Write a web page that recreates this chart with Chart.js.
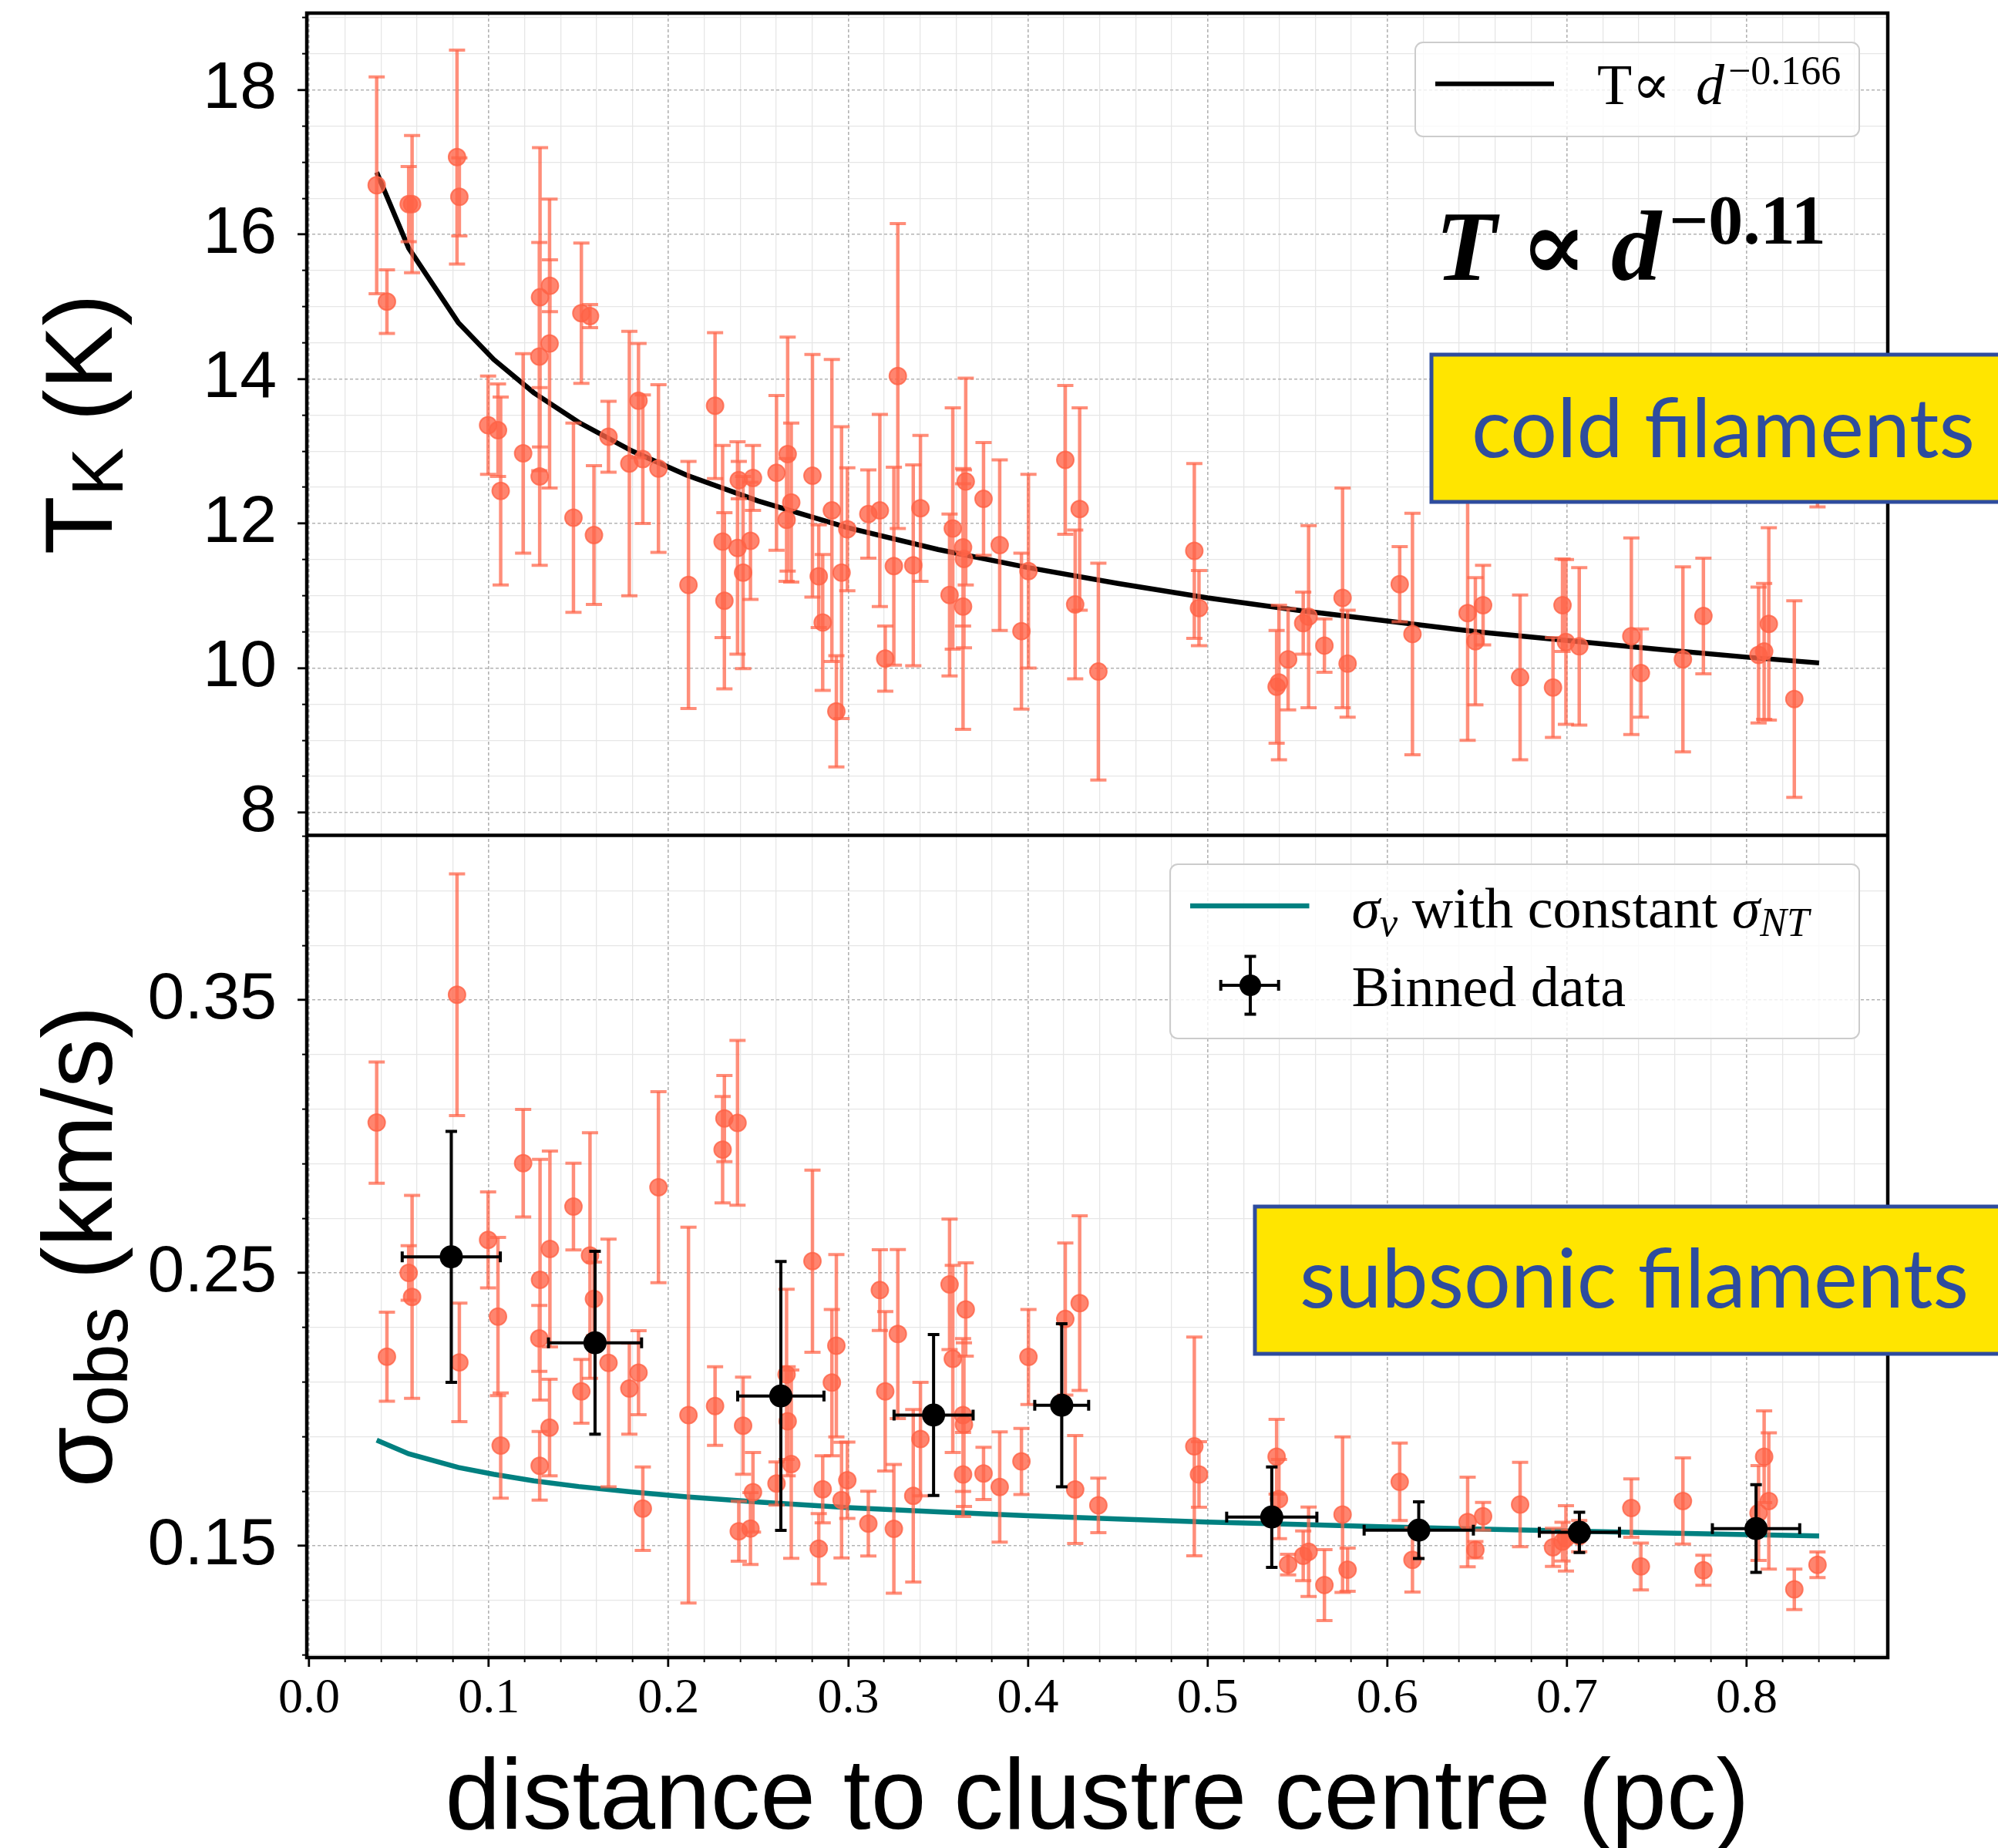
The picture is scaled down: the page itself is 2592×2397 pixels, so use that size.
<!DOCTYPE html>
<html>
<head>
<meta charset="utf-8">
<script src="https://cdn.jsdelivr.net/npm/chart.js@4.4.0/dist/chart.umd.min.js"></script>
<style>
  html, body { margin: 0; padding: 0; background: #fff; overflow: hidden; }
  #wrap { position: relative; width: 2592px; height: 2397px; }
</style>
</head>
<body>
<div id="wrap"><canvas id="chart" width="2592" height="2397"></canvas></div>
<script>
// ================= Data =================
// one entry per filament, same order in both panels
const distance = [
  0.0376, 0.0433, 0.0554, 0.0573, 0.0823, 0.0836, 0.0996, 0.1051, 0.1066, 0.1191,
  0.1285, 0.1281, 0.1283, 0.1340, 0.1338, 0.1471, 0.1515, 0.1563, 0.1585, 0.1666,
  0.1782, 0.1833, 0.1857, 0.1944, 0.2111, 0.2259, 0.2301, 0.2311, 0.2384, 0.2391,
  0.2415, 0.2470, 0.2456, 0.2601, 0.2663, 0.2683, 0.2657, 0.2801, 0.2836, 0.2858,
  0.2909, 0.2934, 0.2963, 0.2995, 0.3112, 0.3176, 0.3206, 0.3276, 0.3254, 0.3362,
  0.3402, 0.3582, 0.3564, 0.3654, 0.3639, 0.3644, 0.3639, 0.3753, 0.3843, 0.3964,
  0.4003, 0.4208, 0.4288, 0.4263, 0.4392, 0.4926, 0.4952, 0.5384, 0.5397, 0.5448,
  0.5532, 0.5562, 0.5650, 0.5751, 0.5779, 0.6069, 0.6140, 0.6447, 0.6490, 0.6533,
  0.6739, 0.6922, 0.6975, 0.6994, 0.7068, 0.7358, 0.7411, 0.7645, 0.7759, 0.8066,
  0.8097, 0.8123, 0.8265, 0.8394
];
const tempK = [
  16.68, 15.07, 16.42, 16.42, 17.07, 16.52, 13.36, 13.29, 12.45, 12.97,
  15.13, 14.31, 12.65, 15.29, 14.49, 12.08, 14.91, 14.87, 11.84, 13.20,
  12.83, 13.70, 12.89, 12.76, 11.15, 13.63, 11.75, 10.93, 11.66, 12.60,
  11.32, 12.63, 11.76, 12.70, 12.96, 12.29, 12.05, 12.66, 11.27, 10.63,
  12.18, 9.40, 11.32, 11.92, 12.13, 12.18, 10.13, 14.04, 11.41, 11.42,
  12.21, 11.93, 11.01, 12.58, 11.67, 11.51, 10.85, 12.34, 11.70, 10.51,
  11.34, 12.88, 12.20, 10.88, 9.95, 11.62, 10.83, 9.74, 9.80, 10.12,
  10.62, 10.71, 10.31, 10.97, 10.06, 11.16, 10.47, 10.76, 10.37, 10.87,
  9.87, 9.73, 10.87, 10.36, 10.30, 10.44, 9.93, 10.12, 10.72, 10.18,
  10.23, 10.61, 9.57, 13.00
];
const tempErr = [
  1.50, 0.44, 0.52, 0.95, 1.48, 0.54, 0.68, 0.64, 1.30, 1.38,
  2.07, 1.58, 1.23, 0.36, 2.00, 1.31, 0.97, 0.16, 0.96, 0.49,
  1.83, 0.79, 0.89, 1.16, 1.71, 1.01, 1.33, 1.22, 1.47, 0.26,
  1.33, 0.45, 0.81, 1.07, 1.62, 1.10, 0.85, 1.68, 0.71, 0.94,
  2.09, 0.77, 2.02, 0.85, 0.61, 1.33, 0.45, 2.11, 1.37, 1.39,
  1.01, 1.67, 1.12, 1.43, 1.09, 1.23, 1.70, 0.78, 1.18, 1.08,
  1.34, 1.03, 1.40, 1.03, 1.50, 1.21, 0.52, 0.78, 1.07, 0.70,
  0.43, 1.26, 0.37, 1.52, 0.74, 0.52, 1.67, 1.76, 0.88, 0.55,
  1.14, 0.69, 0.64, 1.14, 1.09, 1.36, 0.61, 1.28, 0.80, 0.94,
  0.94, 1.33, 1.36, 0.77
];
const sigmaObs = [
  0.3051, 0.2193, 0.2500, 0.2412, 0.3520, 0.2172, 0.2621, 0.2340, 0.1867, 0.2902,
  0.2475, 0.2260, 0.1793, 0.2588, 0.1933, 0.2743, 0.2066, 0.2564, 0.2405, 0.2170,
  0.2076, 0.2134, 0.1636, 0.2814, 0.1979, 0.2012, 0.2952, 0.3066, 0.3050, 0.1553,
  0.1940, 0.1696, 0.1563, 0.1728, 0.1956, 0.1799, 0.2128, 0.2543, 0.1489, 0.1707,
  0.2098, 0.2233, 0.1667, 0.1740, 0.1581, 0.2437, 0.2066, 0.2276, 0.1562, 0.1683,
  0.1891, 0.2185, 0.2458, 0.2366, 0.1979, 0.1944, 0.1761, 0.1765, 0.1715, 0.1809,
  0.2192, 0.2331, 0.2389, 0.1706, 0.1648, 0.1864, 0.1761, 0.1826, 0.1671, 0.1431,
  0.1463, 0.1478, 0.1356, 0.1614, 0.1412, 0.1734, 0.1448, 0.1587, 0.1485, 0.1608,
  0.1651, 0.1494, 0.1515, 0.1527, 0.1535, 0.1638, 0.1424, 0.1664, 0.1410, 0.1620,
  0.1826, 0.1664, 0.1340, 0.1430
];
const sigmaErr = [
  0.0222, 0.0163, 0.0100, 0.0372, 0.0443, 0.0217, 0.0176, 0.0290, 0.0193, 0.0197,
  0.0441, 0.0121, 0.0126, 0.0359, 0.0177, 0.0159, 0.0117, 0.0450, 0.0135, 0.0454,
  0.0167, 0.0154, 0.0153, 0.0350, 0.0689, 0.0144, 0.0195, 0.0158, 0.0302, 0.0110,
  0.0178, 0.0146, 0.0132, 0.0079, 0.0200, 0.0345, 0.0312, 0.0334, 0.0129, 0.0123,
  0.0268, 0.0334, 0.0212, 0.0140, 0.0119, 0.0148, 0.0292, 0.0310, 0.0236, 0.0316,
  0.0208, 0.0343, 0.0239, 0.0171, 0.0280, 0.0300, 0.0154, 0.0096, 0.0202, 0.0121,
  0.0174, 0.0279, 0.0320, 0.0198, 0.0100, 0.0401, 0.0120, 0.0137, 0.0145, 0.0038,
  0.0091, 0.0164, 0.0130, 0.0285, 0.0079, 0.0142, 0.0118, 0.0164, 0.0030, 0.0051,
  0.0155, 0.0070, 0.0071, 0.0120, 0.0057, 0.0107, 0.0086, 0.0158, 0.0055, 0.0174,
  0.0168, 0.0250, 0.0074, 0.0047
];

// binned points (black)
const binDistance = [0.0791, 0.1591, 0.2625, 0.3475, 0.4188, 0.5357, 0.6175, 0.7069, 0.8052];
const binDistErr  = [0.0273, 0.0259, 0.0240, 0.0220, 0.0150, 0.0251, 0.0304, 0.0223, 0.0243];
const binSigma    = [0.2559, 0.2244, 0.2049, 0.1979, 0.2015, 0.1605, 0.1557, 0.1549, 0.1563];
const binSigmaErr = [0.0460, 0.0335, 0.0493, 0.0295, 0.0299, 0.0184, 0.0104, 0.0074, 0.0161];

// fitted curves, values
const fitDistance = [0.0376, 0.0554, 0.083, 0.1027, 0.125, 0.15, 0.18, 0.21, 0.25, 0.30, 0.35,
                     0.40, 0.45, 0.50, 0.55, 0.60, 0.65, 0.70, 0.75, 0.80, 0.8403];
const fitTemp  = [16.86, 15.81, 14.78, 14.27, 13.81, 13.40, 13.00, 12.67, 12.31, 11.94, 11.64,
                  11.39, 11.17, 10.97, 10.80, 10.65, 10.50, 10.38, 10.26, 10.15, 10.07];
const fitSigma = [0.1887, 0.1837, 0.1787, 0.1762, 0.1738, 0.1717, 0.1697, 0.1679, 0.1660, 0.1640, 0.1624,
                  0.1610, 0.1598, 0.1587, 0.1578, 0.1569, 0.1561, 0.1554, 0.1547, 0.1541, 0.1536];

// axes
const xRange = [-0.0013, 0.8785];
const tRange = [7.684, 19.063];
const sigmaRange = [0.109, 0.4104];
const xMajorTicks = [0, 0.1, 0.2, 0.3, 0.4, 0.5, 0.6, 0.7, 0.8];
const tMajorTicks = [8, 10, 12, 14, 16, 18];
const sigmaMajorTicks = [0.15, 0.25, 0.35];

// ================= Helpers =================
const RED = 'rgba(255, 99, 71, 0.72)';
const RED_DOT = 'rgba(255, 99, 71, 0.78)';
const TEAL = '#008080';
const BLUE = '#2e4c9e';
const YELLOW = '#ffe500';

function minorTicks(majors, parts, lo, hi) {
  const step = (majors[1] - majors[0]) / parts;
  const out = [];
  let v = majors[0] - Math.floor((majors[0] - lo) / step + 1e-9) * step;
  for (; v <= hi + 1e-9; v += step) out.push(+v.toFixed(6));
  return out;
}
const xMinor = minorTicks(xMajorTicks, 5, xRange[0], xRange[1]);
const tMinor = minorTicks(tMajorTicks, 4, tRange[0], tRange[1]);
const sigmaMinor = minorTicks(sigmaMajorTicks, 5, sigmaRange[0], sigmaRange[1]);

function isMajor(v, majors) {
  return majors.some(m => Math.abs(m - v) < 1e-6);
}
const pts = (xs, ys) => xs.map((x, i) => ({x, y: ys[i]}));

// error bar segments, broken by null points
function barSegments(xs, ys, errs, vertical) {
  const out = [];
  xs.forEach((x, i) => {
    const y = ys[i], e = errs[i];
    if (vertical) out.push({x, y: y - e}, {x, y: y + e}, {x, y: null});
    else out.push({x: x - e, y}, {x: x + e, y}, {x: x + e, y: null});
  });
  return out;
}
function capPoints(xs, ys, errs, vertical) {
  const out = [];
  xs.forEach((x, i) => {
    const y = ys[i], e = errs[i];
    if (vertical) out.push({x, y: y - e}, {x, y: y + e});
    else out.push({x: x - e, y}, {x: x + e, y});
  });
  return out;
}

function lineSet(data, yAxisID, color, width, order) {
  return { data, yAxisID, showLine: true, spanGaps: false, borderColor: color, borderWidth: width,
           pointRadius: 0, order };
}
function capSet(data, yAxisID, color, radius, rotation, order) {
  return { data, yAxisID, showLine: false, pointStyle: 'line', pointRadius: radius,
           pointBorderColor: color, pointBorderWidth: 4, pointRotation: rotation, order };
}
function dotSet(data, yAxisID, color, radius, border, order) {
  return { data, yAxisID, showLine: false, pointRadius: radius, pointBackgroundColor: color,
           pointBorderColor: color, pointBorderWidth: border, order };
}

// ================= Datasets =================
const datasets = [
  lineSet(pts(fitDistance, fitTemp), 'yT', '#000', 6.5, 6),
  lineSet(pts(fitDistance, fitSigma), 'yB', TEAL, 6.5, 6),

  lineSet(barSegments(distance, tempK, tempErr, true), 'yT', RED, 4.5, 5),
  capSet(capPoints(distance, tempK, tempErr, true), 'yT', RED, 10.5, 0, 5),
  dotSet(pts(distance, tempK), 'yT', RED_DOT, 11, 2, 4),

  lineSet(barSegments(distance, sigmaObs, sigmaErr, true), 'yB', RED, 4.5, 5),
  capSet(capPoints(distance, sigmaObs, sigmaErr, true), 'yB', RED, 10.5, 0, 5),
  dotSet(pts(distance, sigmaObs), 'yB', RED_DOT, 11, 2, 4),

  lineSet(barSegments(binDistance, binSigma, binDistErr, false), 'yB', '#000', 4, 2),
  capSet(capPoints(binDistance, binSigma, binDistErr, false), 'yB', '#000', 7, 90, 2),
  lineSet(barSegments(binDistance, binSigma, binSigmaErr, true), 'yB', '#000', 4, 2),
  capSet(capPoints(binDistance, binSigma, binSigmaErr, true), 'yB', '#000', 7.5, 0, 2),
  dotSet(pts(binDistance, binSigma), 'yB', '#000', 15, 0, 1)
];

// ================= Axes =================
function minorGrid(majors) {
  return {
    color: c => (c.tick && isMajor(c.tick.value, majors)) ? 'rgba(0,0,0,0)' : '#e6e6e6',
    lineWidth: 1.3,
    tickLength: 6,
    tickWidth: 2,
    tickColor: c => (c.tick && isMajor(c.tick.value, majors)) ? 'rgba(0,0,0,0)' : '#000'
  };
}
const majorGrid = { color: '#b3b3b3', lineWidth: 1.6, tickLength: 12, tickWidth: 2.8, tickColor: '#000' };

function mainY(range, minor, majors, fmt) {
  return {
    type: 'linear', position: 'left', stack: 'panels', stackWeight: 1,
    min: range[0], max: range[1],
    afterBuildTicks: s => { s.ticks = minor.map(value => ({value})); },
    afterFit: s => { s.width = 398; s.paddingTop = 0; s.paddingBottom = 0; },
    grid: minorGrid(majors),
    border: { display: false },
    ticks: { autoSkip: false, padding: 33, color: '#000',
             font: { family: 'Liberation Sans', size: 86 },
             callback: v => isMajor(v, majors) ? fmt(v) : '' }
  };
}
function majorY(range, majors) {
  return {
    type: 'linear', position: 'left', stack: 'majors', stackWeight: 1, weight: -1,
    min: range[0], max: range[1],
    afterBuildTicks: s => { s.ticks = majors.map(value => ({value})); },
    afterFit: s => { s.width = 0; s.paddingTop = 0; s.paddingBottom = 0; },
    grid: majorGrid,
    border: { display: false, dash: [4, 3] },
    ticks: { display: false }
  };
}

// ================= Extra drawing: frame, labels, legends =================
function drawRuns(ctx, x, y, runs) {
  for (const r of runs) {
    ctx.font = r.font;
    ctx.fillText(r.text, x, y + (r.dy || 0));
    x += ctx.measureText(r.text).width;
  }
  return x;
}
function runsWidth(ctx, runs) {
  let w = 0;
  for (const r of runs) { ctx.font = r.font; w += ctx.measureText(r.text).width; }
  return w;
}
function verticalTitle(ctx, baselineX, centerY, runs) {
  ctx.save();
  ctx.translate(baselineX, centerY);
  ctx.rotate(-Math.PI / 2);
  drawRuns(ctx, -runsWidth(ctx, runs) / 2, 0, runs);
  ctx.restore();
}
function fitText(ctx, text, family, width, left, baseline) {
  ctx.font = `100px ${family}`;
  const size = 100 * width / ctx.measureText(text).width;
  ctx.font = `${size}px ${family}`;
  ctx.fillText(text, left, baseline);
}
function legendFrame(ctx, x, y, w, h) {
  ctx.beginPath();
  ctx.roundRect(x, y, w, h, 10);
  ctx.fillStyle = 'rgba(255,255,255,0.8)';
  ctx.fill();
  ctx.strokeStyle = '#cccccc';
  ctx.lineWidth = 2;
  ctx.stroke();
}
function labelBox(ctx, x, y, w, h, text, textLeft, textWidth, baseline) {
  ctx.fillStyle = YELLOW;
  ctx.fillRect(x, y, w, h);
  ctx.strokeStyle = BLUE;
  ctx.lineWidth = 5;
  ctx.strokeRect(x, y, w, h);
  ctx.fillStyle = BLUE;
  fitText(ctx, text, 'Lato, "Open Sans", sans-serif', textWidth, textLeft, baseline);
}

const frame = {
  id: 'frame',
  afterDatasetsDraw(chart) {
    const {ctx, chartArea: a, scales} = chart;
    ctx.save();
    ctx.strokeStyle = '#000';
    ctx.lineWidth = 4.5;
    ctx.strokeRect(a.left, a.top, a.right - a.left, a.bottom - a.top);
    ctx.beginPath();
    ctx.moveTo(a.left, scales.yT.bottom);
    ctx.lineTo(a.right, scales.yT.bottom);
    ctx.stroke();
    ctx.restore();
  }
};

const SERIF = '"Liberation Serif", "DejaVu Serif", serif';
const SANS = '"Liberation Sans", Arial, sans-serif';

const annotations = {
  id: 'annotations',
  afterDraw(chart) {
    const {ctx, scales} = chart;
    ctx.save();
    ctx.fillStyle = '#000';
    ctx.textBaseline = 'alphabetic';
    ctx.textAlign = 'left';

    // y axis titles
    const yTmid = (scales.yT.top + scales.yT.bottom) / 2;
    const yBmid = (scales.yB.top + scales.yB.bottom) / 2;
    verticalTitle(ctx, 145, yTmid, [
      {text: 'T', font: `124px ${SANS}`},
      {text: 'K', font: `94px ${SANS}`, dy: 14},
      {text: ' (K)', font: `124px ${SANS}`}
    ]);
    verticalTitle(ctx, 145, yBmid, [
      {text: 'σ', font: `128px ${SANS}`},
      {text: 'obs', font: `96px ${SANS}`, dy: 20},
      {text: ' (km/s)', font: `128px ${SANS}`}
    ]);

    // power-law annotation
    ctx.fillStyle = '#000';
    ctx.font = `italic bold 130px ${SERIF}`;
    ctx.fillText('T', 1862, 363);
    ctx.font = `bold 130px ${SERIF}`;
    ctx.fillText('∝', 1972, 363);
    ctx.font = `italic bold 130px ${SERIF}`;
    ctx.fillText('d', 2090, 363);
    ctx.font = `bold 90px ${SERIF}`;
    ctx.fillText('−0.11', 2165, 316);

    // legend, top panel
    legendFrame(ctx, 1836, 55, 576, 122);
    ctx.strokeStyle = '#000';
    ctx.lineWidth = 6;
    ctx.beginPath(); ctx.moveTo(1862, 108.7); ctx.lineTo(2016, 108.7); ctx.stroke();
    ctx.fillStyle = '#000';
    ctx.font = `74px ${SERIF}`;
    ctx.fillText('T∝', 2072, 134.7);
    ctx.font = `italic 74px ${SERIF}`;
    ctx.fillText('d', 2200, 134.7);
    ctx.font = `52px ${SERIF}`;
    ctx.fillText('−0.166', 2242, 108.7);

    // legend, bottom panel
    legendFrame(ctx, 1518, 1121, 894, 226);
    ctx.strokeStyle = TEAL;
    ctx.lineWidth = 6.5;
    ctx.beginPath(); ctx.moveTo(1544, 1175); ctx.lineTo(1698.5, 1175); ctx.stroke();
    ctx.fillStyle = '#000';
    drawRuns(ctx, 1753.6, 1203, [
      {text: 'σ', font: `italic 74px ${SERIF}`},
      {text: 'v', font: `italic 52px ${SERIF}`, dy: 11},
      {text: ' with constant ', font: `74px ${SERIF}`},
      {text: 'σ', font: `italic 74px ${SERIF}`},
      {text: 'NT', font: `italic 52px ${SERIF}`, dy: 11}
    ]);
    ctx.strokeStyle = '#000';
    ctx.lineWidth = 4;
    ctx.beginPath();
    ctx.moveTo(1583.7, 1278); ctx.lineTo(1658.7, 1278);
    ctx.moveTo(1583.7, 1271); ctx.lineTo(1583.7, 1285);
    ctx.moveTo(1658.7, 1271); ctx.lineTo(1658.7, 1285);
    ctx.moveTo(1622, 1240.5); ctx.lineTo(1622, 1315.5);
    ctx.moveTo(1614.5, 1240.5); ctx.lineTo(1629.5, 1240.5);
    ctx.moveTo(1614.5, 1315.5); ctx.lineTo(1629.5, 1315.5);
    ctx.stroke();
    ctx.beginPath(); ctx.arc(1622, 1278, 14, 0, Math.PI * 2); ctx.fill();
    ctx.font = `74px ${SERIF}`;
    ctx.fillText('Binned data', 1753.6, 1305);

    // highlighted labels
    labelBox(ctx, 1857, 460, 800, 191, 'cold filaments', 1909, 653, 593);
    labelBox(ctx, 1628, 1565, 1000, 191, 'subsonic filaments', 1686, 868, 1696);

    ctx.restore();
  }
};

// ================= Chart =================
Chart.defaults.font.family = SANS;
Chart.defaults.color = '#000';

new Chart(document.getElementById('chart'), {
  type: 'scatter',
  data: { datasets },
  options: {
    responsive: false,
    animation: false,
    events: [],
    devicePixelRatio: 1,
    layout: { padding: { left: 0, top: 17, right: 143, bottom: 0 } },
    plugins: { legend: { display: false }, tooltip: { enabled: false } },
    scales: {
      x: {
        type: 'linear', position: 'bottom', min: xRange[0], max: xRange[1],
        afterBuildTicks: s => { s.ticks = xMinor.map(value => ({value})); },
        afterFit: s => { s.height = 247; s.paddingLeft = 0; s.paddingRight = 0; },
        grid: minorGrid(xMajorTicks),
        border: { display: false },
        ticks: { autoSkip: false, maxRotation: 0, minRotation: 0, padding: 10, color: '#000',
                 font: { family: SERIF, size: 64 },
                 callback: v => isMajor(v, xMajorTicks) ? v.toFixed(1) : '' },
        title: { display: true, text: 'distance to clustre centre (pc)', color: '#000',
                 font: { family: SANS, size: 129, lineHeight: 0.9 }, padding: { top: 0, bottom: 3 } }
      },
      xMaj: {
        type: 'linear', position: 'bottom', weight: -1, min: xRange[0], max: xRange[1],
        afterBuildTicks: s => { s.ticks = xMajorTicks.map(value => ({value})); },
        afterFit: s => { s.height = 0; s.paddingLeft = 0; s.paddingRight = 0; },
        grid: majorGrid,
        border: { display: false, dash: [4, 3] },
        ticks: { display: false }
      },
      yB: mainY(sigmaRange, sigmaMinor, sigmaMajorTicks, v => v.toFixed(2)),
      yT: mainY(tRange, tMinor, tMajorTicks, v => String(Math.round(v))),
      yBMaj: majorY(sigmaRange, sigmaMajorTicks),
      yTMaj: majorY(tRange, tMajorTicks)
    }
  },
  plugins: [frame, annotations]
});
</script>
</body>
</html>
